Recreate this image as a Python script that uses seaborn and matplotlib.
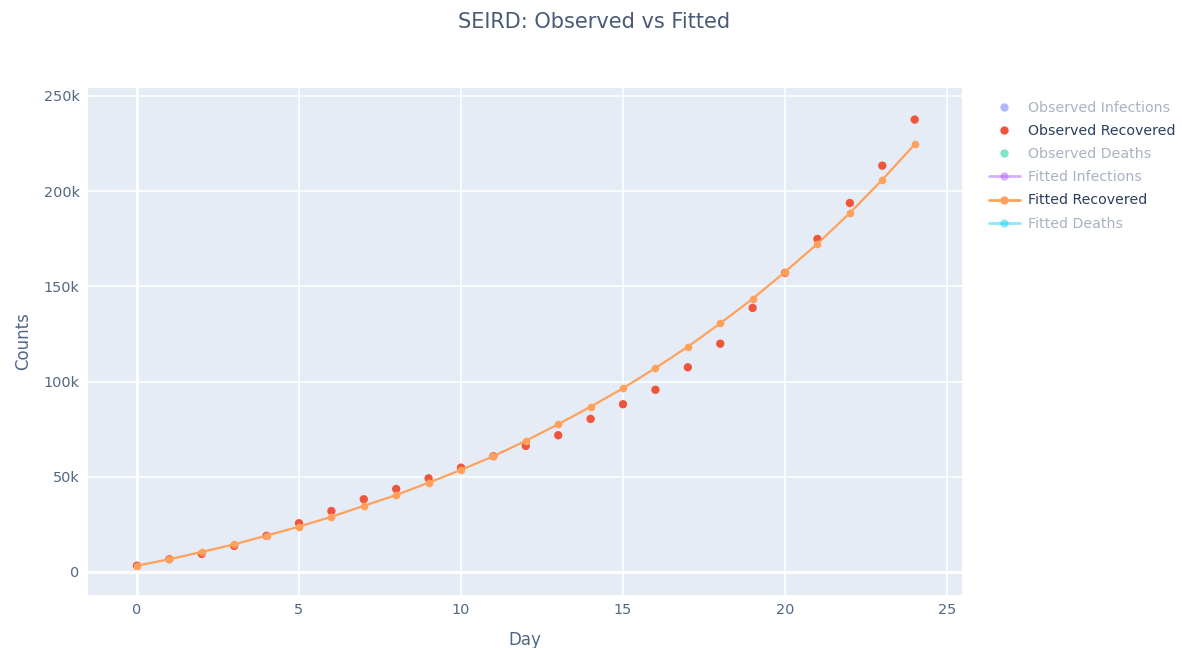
import numpy as np
import pandas as pd
import matplotlib
matplotlib.use('Agg')
import matplotlib.pyplot as plt
import seaborn as sns
from matplotlib.lines import Line2D

days = list(range(25))
observed_recovered = [3.3, 6.7, 9.5, 13.7, 19.0, 25.6, 32.0, 38.2, 43.6, 49.2,
                      54.8, 60.8, 66.2, 71.8, 80.4, 88.1, 95.7, 107.5, 119.9, 138.7,
                      157.1, 174.9, 193.8, 213.4, 237.6]
fitted_recovered = [3.3, 6.7, 10.5, 14.5, 19.1, 23.8, 29.0, 34.7, 40.4, 46.9,
                    53.6, 60.8, 68.9, 77.6, 86.8, 96.5, 107.1, 118.3, 130.6, 143.5,
                    157.6, 172.4, 188.6, 206.0, 224.6]

legend_names = ['Observed Infections', 'Observed Recovered', 'Observed Deaths',
                'Fitted Infections', 'Fitted Recovered', 'Fitted Deaths']
legend_colors = ['#636EFA', '#EF553B', '#00CC96', '#AB63FA', '#FFA15A', '#19D3F3']
legend_visible = [False, True, False, False, True, False]

df = pd.DataFrame({
    'Day': days,
    'Observed': np.array(observed_recovered) * 1000,
    'Fitted': np.array(fitted_recovered) * 1000,
})

sns.set_theme(style='whitegrid', rc={
    'axes.facecolor': '#E5ECF6',
    'grid.color': 'white',
    'grid.linewidth': 1.2,
    'axes.edgecolor': '#E5ECF6',
})
plt.rcParams['font.family'] = ['DejaVu Sans']
text_col = '#2a3f5f'

fig = plt.figure(figsize=(11.82, 6.48), dpi=100)
ax = fig.add_axes([88 / 1182, 1 - 595 / 648, (962 - 88) / 1182, (595 - 88) / 648])

# zero lines, a bit thicker like plotly
ax.axvline(0, color='white', linewidth=2, zorder=1)
ax.axhline(0, color='white', linewidth=2, zorder=1)

sns.lineplot(data=df, x='Day', y='Fitted', ax=ax, color='#FFA15A', linewidth=1.6,
             marker='o', markersize=5.5, markeredgewidth=0, zorder=3)
sns.scatterplot(data=df, x='Day', y='Observed', ax=ax, color='#EF553B', s=36,
                edgecolor='none', zorder=2)

ax.set_xlim(-1.51, 25.46)
ax.set_ylim(-12100, 254200)
ax.set_xticks([0, 5, 10, 15, 20, 25])
yt = [0, 50000, 100000, 150000, 200000, 250000]
ax.set_yticks(yt)
ax.set_yticklabels(['0' if v == 0 else f'{v // 1000}k' for v in yt])
ax.tick_params(axis='both', length=0, labelsize=10.4, labelcolor='#506784', pad=6)
for s in ax.spines.values():
    s.set_visible(False)
ax.set_xlabel('Day', fontsize=12, color='#506784', labelpad=10)
ax.set_ylabel('Counts', fontsize=12, color='#506784', labelpad=8)

fig.suptitle('SEIRD: Observed vs Fitted', x=0.503, y=0.982, fontsize=15, color='#4a5a75')

handles = []
for i, (name, c) in enumerate(zip(legend_names, legend_colors)):
    a = 1.0 if legend_visible[i] else 0.5
    if name.startswith('Observed'):
        h = Line2D([], [], linestyle='none', marker='o', markersize=6, color=c,
                   markeredgewidth=0, alpha=a)
    else:
        h = Line2D([], [], linestyle='-', linewidth=2, marker='o', markersize=6,
                   color=c, markeredgewidth=0, alpha=a)
    handles.append(h)

leg = fig.legend(handles, legend_names, loc='upper left',
                 bbox_to_anchor=(983 / 1182, 1 - 95 / 648), frameon=False,
                 fontsize=10.2, handlelength=2.2, handletextpad=0.6,
                 labelspacing=0.65, borderaxespad=0)
for t, vis in zip(leg.get_texts(), legend_visible):
    t.set_color(text_col if vis else '#a9b2c3')

fig.savefig('out.png', dpi=100)
